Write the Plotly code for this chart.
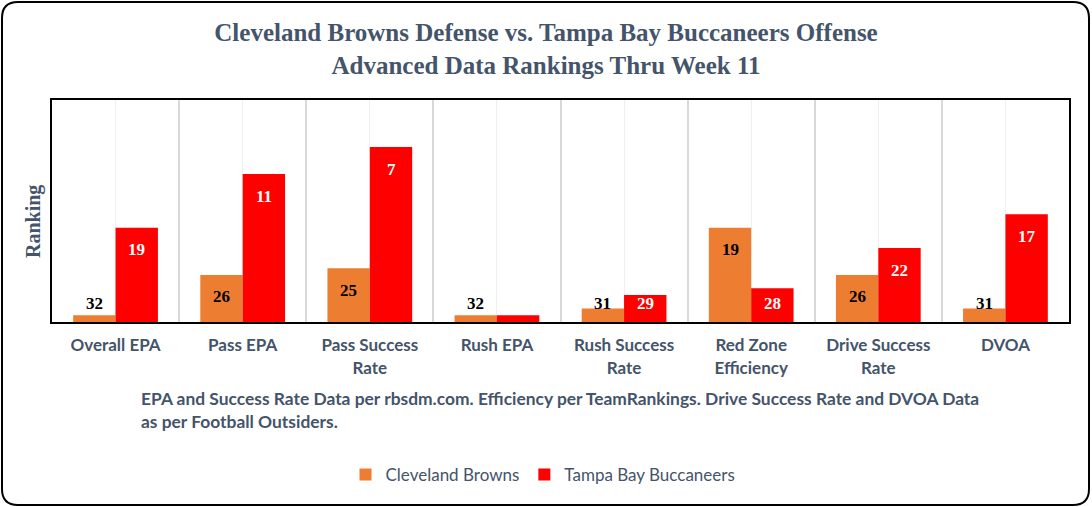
import plotly.graph_objects as go

# ---- data ----
categories = ["Overall EPA", "Pass EPA", "Pass Success<br>Rate", "Rush EPA",
              "Rush Success<br>Rate", "Red Zone<br>Efficiency", "Drive Success<br>Rate", "DVOA"]
browns_rank = [32, 26, 25, 32, 31, 19, 26, 31]
bucs_rank = [19, 11, 7, 32, 29, 28, 22, 17]
browns_height = [1, 7, 8, 1, 2, 14, 7, 2]
bucs_height = [14, 22, 26, 1, 4, 5, 11, 16]

ORANGE = "#ED7D31"
RED = "#FF0000"
SLATE = "#44546A"

W, H = 1092, 507
PX0, PX1, PY0, PY1 = 52, 1069, 100, 322  # plot area in pixels
YMAX = 33


def px(x):
    return (x - PX0) / (PX1 - PX0)


def py(y):
    return (PY1 - y) / (PY1 - PY0)


xs = list(range(len(categories)))
fig = go.Figure()
fig.add_trace(go.Bar(x=xs, y=browns_height, name="Cleveland Browns",
                     marker=dict(color=ORANGE, line=dict(width=0))))
fig.add_trace(go.Bar(x=xs, y=bucs_height, name="Tampa Bay Buccaneers",
                     marker=dict(color=RED, line=dict(width=0))))

bargap = 1 / 3
bw = (1 - bargap) / 2
unit_px = (PY1 - PY0) / YMAX
off_top = 22 / unit_px
min_center = 18.5 / unit_px

ann = []
for i in xs:
    for vals, ranks, dx, col in ((browns_height, browns_rank, -bw / 2, "black"),
                                 (bucs_height, bucs_rank, bw / 2, "white")):
        v = vals[i]
        yc = max(v - off_top, min_center)
        ann.append(dict(x=i + dx, y=yc, xref="x", yref="y", text=str(ranks[i]),
                        showarrow=False, xanchor="center", yanchor="middle",
                        font=dict(family="Liberation Serif", size=17, color=col, weight="bold")))

# y-axis title
ann.append(dict(x=px(33), y=py(222), xref="paper", yref="paper", text="<b>Ranking</b>",
                textangle=-90, showarrow=False, xanchor="center", yanchor="middle",
                font=dict(family="Liberation Serif", size=20, color=SLATE)))
# footnote
foot = ["EPA and Success Rate Data per rbsdm.com. Efficiency per TeamRankings. Drive Success Rate and DVOA Data",
        "as per Football Outsiders."]
for line, yy in zip(foot, (398, 421)):
    ann.append(dict(x=px(139), y=py(yy), xref="paper", yref="paper", text=line,
                    showarrow=False, xanchor="left", yanchor="middle",
                    font=dict(family="Lato", size=17.4, color=SLATE, weight="bold")))

# rounded outer border
x0, y0, x1, y1, r = 2, 2, 1089, 505, 16
pts = (f"M {px(x0 + r)},{py(y0)} L {px(x1 - r)},{py(y0)} Q {px(x1)},{py(y0)} {px(x1)},{py(y0 + r)} "
       f"L {px(x1)},{py(y1 - r)} Q {px(x1)},{py(y1)} {px(x1 - r)},{py(y1)} "
       f"L {px(x0 + r)},{py(y1)} Q {px(x0)},{py(y1)} {px(x0)},{py(y1 - r)} "
       f"L {px(x0)},{py(y0 + r)} Q {px(x0)},{py(y0)} {px(x0 + r)},{py(y0)} Z")

fig.update_layout(
    width=W, height=H,
    margin=dict(l=PX0, r=W - PX1, t=PY0, b=H - PY1),
    paper_bgcolor="white", plot_bgcolor="white",
    barmode="group", bargap=bargap, bargroupgap=0,
    title=dict(text="<b>Cleveland Browns Defense vs. Tampa Bay Buccaneers Offense<br>Advanced Data Rankings Thru Week 11</b>",
               x=0.5, xref="container", xanchor="center",
               y=1 - 41 / H, yref="container", yanchor="middle",
               font=dict(family="Liberation Serif", size=25, color=SLATE)),
    xaxis=dict(range=[-0.5, len(categories) - 0.5], tickmode="array", tickvals=xs, ticktext=categories,
               showgrid=True, gridcolor="#efefef", gridwidth=1,
               minor=dict(tickvals=[i + 0.5 for i in xs[:-1]], showgrid=True, gridcolor="#d9d9d9", gridwidth=1.5),
               showline=True, mirror=True, linecolor="black", linewidth=2,
               ticks="", ticklabelstandoff=7, zeroline=False,
               tickfont=dict(family="Lato", size=17, color=SLATE, weight="bold")),
    yaxis=dict(range=[0, YMAX], showgrid=False, showticklabels=False, zeroline=False,
               showline=True, mirror=True, linecolor="black", linewidth=2, ticks=""),
    legend=dict(orientation="h", x=px(543), xanchor="center", y=py(475), yanchor="middle",
                font=dict(family="Lato", size=17, color=SLATE), itemwidth=30,
                bgcolor="rgba(0,0,0,0)"),
    annotations=ann,
    shapes=[dict(type="path", path=pts, xref="paper", yref="paper",
                 line=dict(color="black", width=2), fillcolor="rgba(0,0,0,0)", layer="above")],
    showlegend=True,
)

fig.write_html("out.html")
